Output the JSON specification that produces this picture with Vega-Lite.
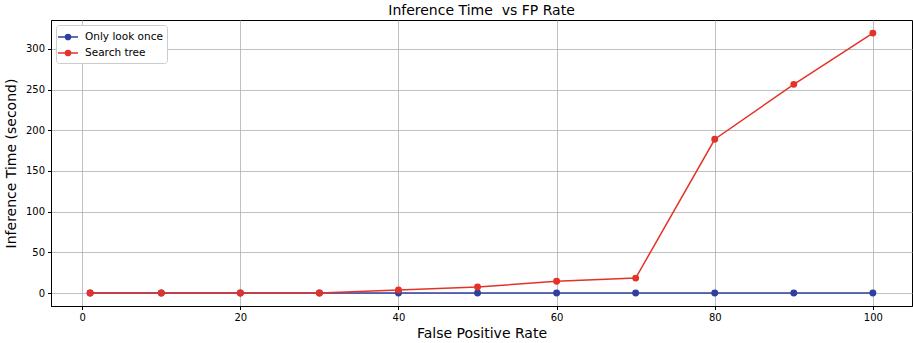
{
  "$schema": "https://vega.github.io/schema/vega-lite/v6.json",
  "width": 861,
  "height": 286,
  "autosize": {"type": "none"},
  "padding": {"left": 51, "top": 20, "right": 1, "bottom": 37},
  "background": "white",
  "title": {"text": "Inference Time\u00a0 vs FP Rate", "font": "DejaVu Sans", "fontSize": 14, "fontWeight": "normal", "color": "#000", "offset": 2},
  "config": {
    "font": "DejaVu Sans",
    "view": {"stroke": "#000", "strokeWidth": 1},
    "axis": {"labelFont": "DejaVu Sans", "titleFont": "DejaVu Sans", "labelFontSize": 10, "labelColor": "#000", "titleColor": "#000", "titleFontWeight": "normal", "titleFontSize": 14, "gridColor": "#b0b0b0", "gridWidth": 0.8, "domainColor": "#000", "tickColor": "#000", "tickSize": 3.5, "labelPadding": 3}
  },
  "data": {"values": [
    {"fp": 1, "t": 0, "method": "Only look once"},
    {"fp": 10, "t": 0, "method": "Only look once"},
    {"fp": 20, "t": 0, "method": "Only look once"},
    {"fp": 30, "t": 0, "method": "Only look once"},
    {"fp": 40, "t": 0, "method": "Only look once"},
    {"fp": 50, "t": 0, "method": "Only look once"},
    {"fp": 60, "t": 0, "method": "Only look once"},
    {"fp": 70, "t": 0, "method": "Only look once"},
    {"fp": 80, "t": 0, "method": "Only look once"},
    {"fp": 90, "t": 0, "method": "Only look once"},
    {"fp": 100, "t": 0, "method": "Only look once"},
    {"fp": 1, "t": 0, "method": "Search tree"},
    {"fp": 10, "t": 0, "method": "Search tree"},
    {"fp": 20, "t": 0, "method": "Search tree"},
    {"fp": 30, "t": 0, "method": "Search tree"},
    {"fp": 40, "t": 3.7, "method": "Search tree"},
    {"fp": 50, "t": 7.3, "method": "Search tree"},
    {"fp": 60, "t": 14.5, "method": "Search tree"},
    {"fp": 70, "t": 18.3, "method": "Search tree"},
    {"fp": 80, "t": 189, "method": "Search tree"},
    {"fp": 90, "t": 256.5, "method": "Search tree"},
    {"fp": 100, "t": 319.5, "method": "Search tree"}
  ]},
  "encoding": {
    "x": {"field": "fp", "type": "quantitative", "scale": {"domain": [-3.95, 104.95], "nice": false, "zero": false},
      "axis": {"title": "False Positive Rate", "values": [0, 20, 40, 60, 80, 100], "titlePadding": 4}},
    "y": {"field": "t", "type": "quantitative", "scale": {"domain": [-15.98, 335.6], "nice": false, "zero": false},
      "axis": {"title": "Inference Time (second)", "values": [0, 50, 100, 150, 200, 250, 300], "titlePadding": 7}},
    "color": {"field": "method", "type": "nominal", "sort": ["Only look once", "Search tree"],
      "scale": {"domain": ["Only look once", "Search tree"], "range": ["#2f3f9f", "#e53228"]},
      "legend": {"title": null, "orient": "none", "legendX": 5, "legendY": 5, "fillColor": "white", "strokeColor": "#cccccc", "cornerRadius": 3, "padding": 4,
        "labelFont": "DejaVu Sans", "labelFontSize": 10.5, "labelColor": "#000", "rowPadding": 2, "labelOffset": 9,
        "symbolType": "M-1.45,0H1.45M0.38,0A0.38,0.38 0 1,1 -0.38,0A0.38,0.38 0 1,1 0.38,0Z", "symbolSize": 190, "symbolStrokeWidth": 1.5}}
  },
  "layer": [
    {"mark": {"type": "line", "strokeWidth": 1.5}},
    {"mark": {"type": "circle", "size": 48, "opacity": 1}}
  ]
}
